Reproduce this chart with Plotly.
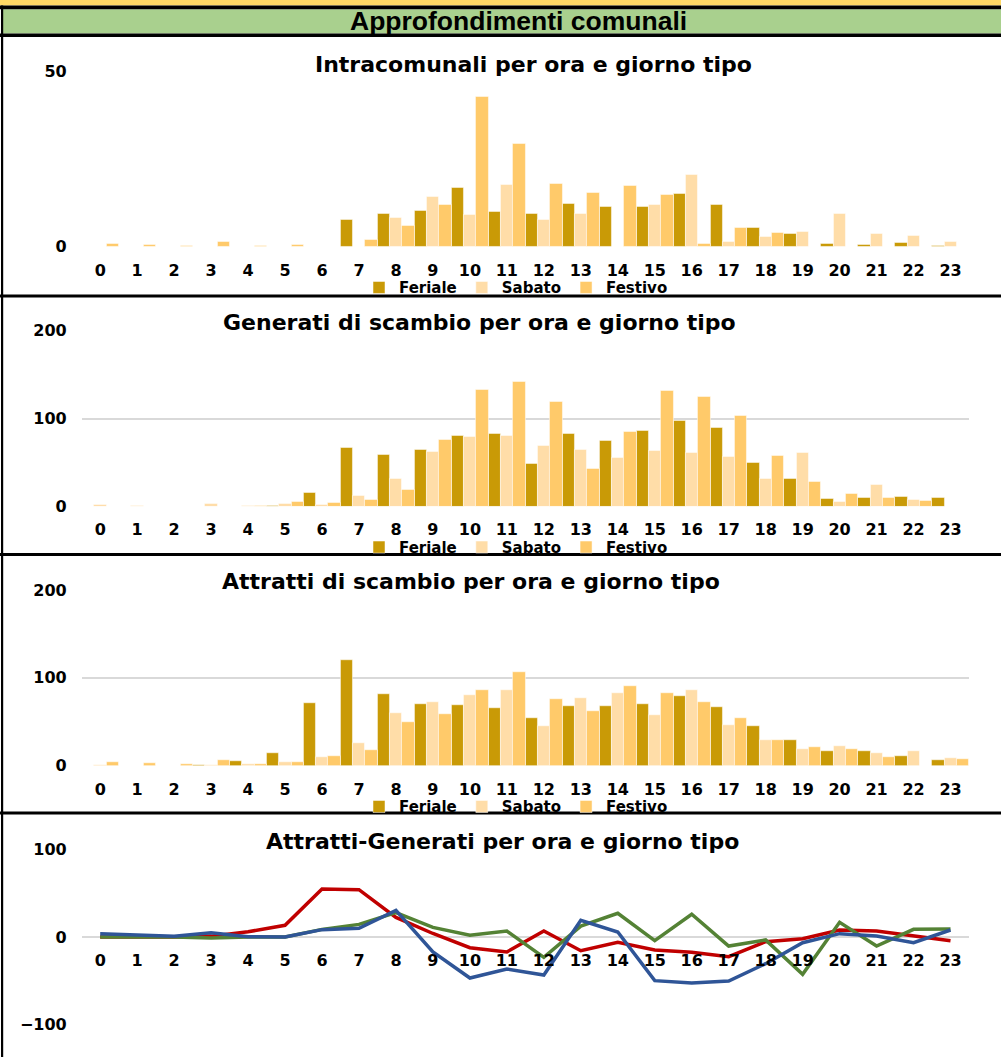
import plotly.graph_objects as go

W, H = 1001, 1057

# ---------------- data ----------------
hours = list(range(24))
hour_labels = [str(h) for h in hours]
series_names = ["Feriale", "Sabato", "Festivo"]

intra_feriale = [0, 0, 0, 0, 0, 0, 0, 7.7, 9.5, 10.4, 16.8, 10.0, 9.3, 12.4, 11.3, 11.3, 15.1, 11.9, 5.3, 3.7, 1.0, 0.7, 1.1, 0.3]
intra_sabato = [0, 0, 0, 0, 0, 0, 0, 0, 8.4, 14.4, 9.1, 17.6, 7.6, 9.5, 0, 11.9, 20.5, 1.4, 2.8, 4.4, 9.3, 3.7, 3.1, 1.4]
intra_festivo = [1.0, 0.7, 0.3, 1.4, 0.2, 0.7, 0, 1.9, 6.1, 11.9, 43.0, 29.5, 18.1, 15.3, 17.5, 15.0, 0.9, 5.3, 4.0, 0, 0, 0, 0, 0]

gen_feriale = [0, 0, 0, 0, 0, 1, 15.9, 66.3, 59, 64.8, 80.3, 82.2, 48.1, 83, 74.2, 85.6, 97.7, 89, 50, 31.4, 8.3, 9.5, 11.4, 10.2]
gen_sabato = [2, 1, 0, 2.5, 1, 3.4, 2.3, 11.7, 31.4, 61.7, 78.8, 79.9, 68.9, 64.4, 55.7, 62.9, 61, 56.8, 31.8, 61.4, 5.7, 24.6, 8, 0]
gen_festivo = [0, 0, 0, 0, 1, 4.9, 3.8, 8, 19.3, 75.4, 133.3, 142.4, 118.6, 43.2, 84.5, 132.2, 124.6, 103.4, 57.2, 27.7, 14.4, 9.5, 6.4, 0]

att_feriale = [0, 0, 0, 1, 5.7, 14.4, 71.2, 120, 81.8, 69.7, 68.6, 65.5, 54.5, 67.8, 67.8, 70.1, 79.2, 66.3, 45.5, 29.2, 16.3, 16.3, 11.4, 6.1]
att_sabato = [0.5, 0, 0, 1, 1.9, 4.2, 9.8, 26.1, 59.8, 72.7, 80.3, 86.7, 45, 76.5, 82.6, 57.6, 86.4, 46.2, 28.8, 18.9, 22.7, 14.4, 16.7, 8.7]
att_festivo = [4.5, 3, 1.5, 6.4, 2.3, 4.5, 11.4, 17.8, 49.6, 58.7, 86.7, 106.4, 75.8, 62.1, 90.2, 82.6, 72.7, 54.5, 28.8, 21.2, 18.6, 9.8, 0, 7.6]

diff_feriale = [0, 0, 0, 1, 6, 13.3, 54.8, 54, 22.4, 4, -12.2, -17.1, 6.8, -15.6, -6, -14.8, -17.5, -22.4, -5.3, -1.9, 8, 6.8, 1.5, -4.2]
diff_sabato = [0, 0, 0, -1, 0, 0, 8.7, 14.4, 27.8, 11, 1.9, 6.8, -23.2, 12.5, 27, -4.2, 25.9, -10.3, -3.4, -42.6, 16.7, -10.3, 8.7, 9.1]
diff_festivo = [3.8, 2.3, 0.8, 4.9, 0.4, 0, 8.4, 9.9, 30.4, -17.1, -46.8, -36.5, -43.3, 19, 5.7, -49.8, -52.5, -50.2, -30.4, -6.5, 3.8, 1.1, -6.5, 8]

header_text = "Approfondimenti comunali"
titles = [
    "Intracomunali per ora e giorno tipo",
    "Generati di scambio per ora e giorno tipo",
    "Attratti di scambio per ora e giorno tipo",
    "Attratti-Generati per ora e giorno tipo",
]

# ---------------- style ----------------
bar_colors = ["#C99A06", "#FFDDA8", "#FFCA6A"]
line_colors = ["#C00000", "#548235", "#2F5597"]
FONT = "DejaVu Sans"
GRID = "#D9D9D9"


def fx(px):
    return px / W


def fy(py):
    return 1 - py / H


x_dom = [fx(81.7), fx(969)]
# (top pixel, bottom pixel) of each plot area
panels_px = [(71.7, 246.7), (330.7, 506.3), (590.0, 765.7), (849.3, 1024.7)]
zero_px = [246.7, 506.3, 765.7, 937.0]
y_ranges = [[0, 50], [0, 200], [0, 200], [-100, 100]]
y_dticks = [50, 100, 100, 100]
title_pos = [(533, 64.5), (479, 322.5), (471, 581.5), (503, 841)]
legend_y = [z + 41 for z in zero_px[:3]]

fig = go.Figure()

bar_sets = [
    (intra_feriale, intra_sabato, intra_festivo),
    (gen_feriale, gen_sabato, gen_festivo),
    (att_feriale, att_sabato, att_festivo),
]
legend_ids = ["legend", "legend2", "legend3"]

for p, vals in enumerate(bar_sets):
    xa = "x" if p == 0 else f"x{p + 1}"
    ya = "y" if p == 0 else f"y{p + 1}"
    for name, v, c in zip(series_names, vals, bar_colors):
        fig.add_trace(go.Bar(
            x=hours, y=v, name=name, xaxis=xa, yaxis=ya,
            marker=dict(color=c, line=dict(color="white", width=0.5)),
            legend=legend_ids[p], hoverinfo="x+y+name",
        ))

for name, v, c in zip(series_names, [diff_feriale, diff_sabato, diff_festivo], line_colors):
    fig.add_trace(go.Scatter(
        x=hours, y=v, name=name, mode="lines", xaxis="x4", yaxis="y4",
        line=dict(color=c, width=3.5), showlegend=False,
    ))

tickfont = dict(family=FONT, size=16, color="black", weight="bold")
layout = dict(
    width=W, height=H, autosize=False,
    margin=dict(l=0, r=0, t=0, b=0, pad=0, autoexpand=False),
    paper_bgcolor="white", plot_bgcolor="white",
    barmode="group", bargap=0, bargroupgap=0,
    showlegend=True,
    font=dict(family=FONT, color="black"),
)

for p in range(4):
    suf = "" if p == 0 else str(p + 1)
    top, bot = panels_px[p]
    xaxis = dict(
        domain=x_dom, range=[-0.5, 23.5], tickmode="array",
        tickvals=hours, ticktext=hour_labels, showgrid=False, zeroline=False,
        showline=False, ticks="", tickfont=tickfont, ticklabelstandoff=12,
        fixedrange=True, automargin=False,
    )
    if p == 3:
        xaxis.update(anchor="free", position=fy(zero_px[3]))
    else:
        xaxis.update(anchor="y" + suf)
    yaxis = dict(
        domain=[fy(bot), fy(top)], range=y_ranges[p], dtick=y_dticks[p],
        showgrid=True, gridcolor=GRID, gridwidth=1.6, zeroline=False,
        showline=False, ticks="", tickfont=tickfont, ticklabelstandoff=14,
        anchor="x" + suf, fixedrange=True, automargin=False,
    )
    layout["xaxis" + suf] = xaxis
    layout["yaxis" + suf] = yaxis

for i, lid in enumerate(legend_ids):
    layout[lid] = dict(
        orientation="h", x=fx(516), xanchor="center", y=fy(legend_y[i]), yanchor="middle",
        font=dict(family=FONT, size=15, color="black", weight="bold"),
        bgcolor="rgba(0,0,0,0)", itemwidth=30, itemclick=False, itemdoubleclick=False,
    )


# decorations: header band and panel borders (pixel coordinates)
def prect(x0, x1, y0, y1, color, below=False):
    return dict(type="rect", xref="paper", yref="paper",
                x0=fx(x0), x1=fx(x1), y0=fy(y1), y1=fy(y0),
                fillcolor=color, line=dict(width=0),
                layer="below" if below else "above")


shapes = [
    prect(0, W, 0, 5.5, "#FFD966", below=True),
    prect(0, W, 5.5, 9.3, "black"),
    prect(3, W, 9.3, 33.5, "#A9D08E", below=True),
    prect(0, W, 33.5, 37, "black"),
    prect(1, 3.2, 5.5, H, "black"),
]
for yb in [296, 554.5, 813]:
    shapes.append(prect(0, W, yb - 1.5, yb + 1.5, "black"))
layout["shapes"] = shapes

annotations = [dict(
    text=header_text, xref="paper", yref="paper", x=fx(518), y=fy(21.5),
    xanchor="center", yanchor="middle", showarrow=False,
    font=dict(family="Liberation Sans", size=26.5, color="black", weight="bold"),
)]
for t, (tx, ty) in zip(titles, title_pos):
    annotations.append(dict(
        text=t, xref="paper", yref="paper", x=fx(tx), y=fy(ty),
        xanchor="center", yanchor="middle", showarrow=False,
        font=dict(family=FONT, size=22, color="black", weight="bold"),
    ))
layout["annotations"] = annotations

fig.update_layout(**layout)

post = (
    "document.documentElement.style.margin='0';"
    "document.documentElement.style.padding='0';"
    "document.documentElement.style.overflow='hidden';"
    "document.body.style.margin='0';"
    "document.body.style.padding='0';"
    "document.body.style.overflow='hidden';"
    "var gd=document.getElementById('{plot_id}');"
    "gd.style.position='fixed';gd.style.left='0px';gd.style.top='0px';"
)

fig.write_html(
    "out.html",
    config={"displayModeBar": False, "responsive": False},
    post_script=post,
)
